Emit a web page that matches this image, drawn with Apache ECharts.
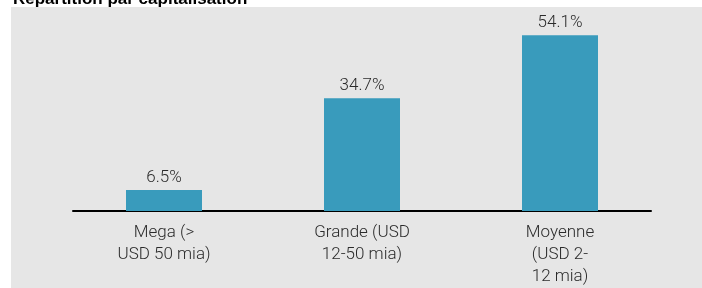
<!DOCTYPE html>
<html lang="fr">
<head>
	<meta charset="utf-8">
	<title>Répartition par capitalisation</title>
	<script src="https://cdn.jsdelivr.net/npm/echarts@6/dist/echarts.min.js"></script>
</head>
<style>
	html,body{width: 100%; height: 100%; padding: 0; margin: 0; overflow: hidden; background: #fff;}
	#main{width: 702px; height: 288px;}
</style>
<body>
	<div id="main"></div>
</body>
<script type="text/javascript">
	var titre = 'Répartition par capitalisation';
	var categories = ['Mega (>\nUSD 50 mia)', 'Grande (USD\n12-50 mia)', 'Moyenne\n(USD 2-\n12 mia)'];
	var parts = [6.5, 34.7, 54.1];

	var myChart = echarts.init(document.getElementById('main'));
	var option = {
		backgroundColor: '#fff',
		animation: false,
		graphic: [{
			type: 'rect',
			left: 11, top: 7,
			shape: {width: 691, height: 281},
			style: {fill: '#e6e6e6'},
			z: -10
		}],
		title: {
			text: titre,
			left: 8, top: -14,
			textStyle: {fontFamily: 'Liberation Sans', fontWeight: 'bold', fontSize: 17, color: '#000'}
		},
		grid: [
			{left: 65, right: 43, top: 16, bottom: 77},
			// second grid only draws the shorter baseline
			{left: 73, right: 51, top: 16, bottom: 77}
		],
		xAxis: [{
			type: 'category',
			gridIndex: 0,
			data: categories,
			axisLine: {show: false},
			axisTick: {show: false},
			axisLabel: {
				margin: 11,
				fontFamily: 'Roboto',
				fontWeight: 300,
				fontSize: 17,
				lineHeight: 22,
				color: '#2b2b2b'
			}
		}, {
			type: 'category',
			gridIndex: 1,
			data: categories,
			axisLine: {lineStyle: {color: '#000', width: 2}},
			axisTick: {show: false},
			axisLabel: {show: false}
		}],
		yAxis: [{
			type: 'value',
			gridIndex: 0,
			min: 0, max: 60,
			show: false
		}, {
			type: 'value',
			gridIndex: 1,
			min: 0, max: 60,
			show: false
		}],
		series: [{
			type: 'bar',
			xAxisIndex: 0,
			yAxisIndex: 0,
			data: parts,
			barWidth: 76,
			itemStyle: {color: '#399bbc'},
			label: {
				show: true,
				position: 'top',
				distance: 4,
				formatter: function (p) { return p.value.toFixed(1) + '%'; },
				fontFamily: 'Roboto',
				fontWeight: 300,
				fontSize: 17,
				color: '#2b2b2b'
			}
		}]
	};
	myChart.setOption(option);
</script>
</html>
